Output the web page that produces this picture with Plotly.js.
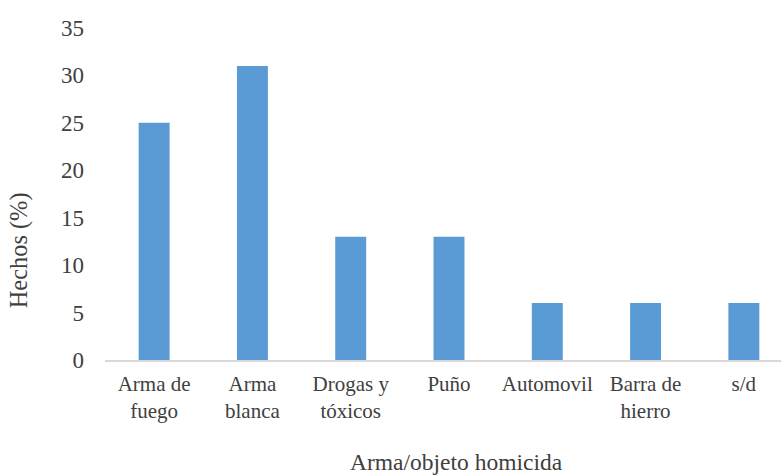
<!DOCTYPE html>
<html>
<head>
<meta charset="utf-8">
<script src="https://cdn.plot.ly/plotly-3.0.1.min.js"></script>
<style>html,body{margin:0;padding:0;background:#fff;}#chart{width:781px;height:476px;}</style>
</head>
<body>
<div id="chart"></div>
<script>
const categories = ["Arma de<br>fuego", "Arma<br>blanca", "Drogas y<br>tóxicos", "Puño", "Automovil", "Barra de<br>hierro", "s/d"];
const hechos = [25, 31, 13, 13, 6, 6, 6];
const yTicks = [0, 5, 10, 15, 20, 25, 30, 35];
const xTitle = "Arma/objeto homicida";
const yTitle = "Hechos (%)";

const font = "Liberation Serif";
const textColor = "#404040";

Plotly.newPlot("chart", [{
  type: "bar",
  x: categories,
  y: hechos,
  marker: {color: "#5b9bd5"},
  hoverinfo: "none"
}], {
  width: 781, height: 476,
  margin: {l: 104.5, r: 0, t: 28, b: 116},
  paper_bgcolor: "#fff", plot_bgcolor: "#fff",
  bargap: 0.685,
  showlegend: false,
  font: {family: font, color: textColor, size: 21},
  xaxis: {
    type: "category",
    range: [-0.5, 6.378],
    showline: true, linecolor: "#d9d9d9", linewidth: 1.5,
    ticks: "", showgrid: false, zeroline: false,
    tickfont: {family: font, size: 21, color: textColor},
    ticklabelstandoff: 4
  },
  yaxis: {
    range: [0, 35],
    tickvals: yTicks,
    ticktext: yTicks.map(String),
    showgrid: false, zeroline: false, showline: false,
    ticks: "",
    tickfont: {family: font, size: 23, color: textColor},
    ticklabelstandoff: 20
  },
  annotations: [
    {text: xTitle, xref: "paper", yref: "paper", x: 0.52, y: -0.308, xanchor: "center", yanchor: "middle",
     borderpad: 0, showarrow: false, font: {family: font, size: 23.5, color: textColor}},
    {text: yTitle, xref: "paper", yref: "paper", x: -0.127, y: 0.331, xanchor: "center", yanchor: "middle",
     textangle: -90, showarrow: false, font: {family: font, size: 24.4, color: textColor}}
  ]
}, {staticPlot: true});
</script>
</body>
</html>
